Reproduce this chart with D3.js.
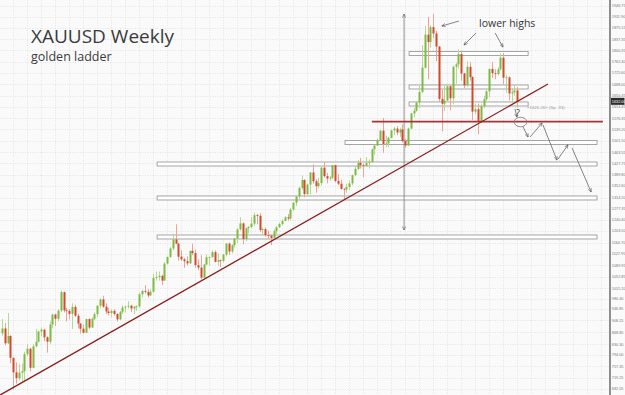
<!DOCTYPE html>
<html><head><meta charset="utf-8">
<script src="https://cdn.jsdelivr.net/npm/d3@7/dist/d3.min.js"></script>
<style>
html,body{margin:0;padding:0;background:#fff;}
svg{display:block;}
</style></head><body>
<svg id="c" width="625" height="395"></svg>
<script>
// Weekly XAUUSD candles, first week ending 2008-09-26
const firstWeek = "2008-09-26";
const open  = [866,882,833,857,785,737,718,736,741,797,815,752,823,838,872,878,853,838,895,928,914,941,1002,942,940,930,953,924,898,881,868,913,885,914,929,957,978,954,938,933,940,930,912,937,951,954,957,948,954,955,995,1006,1003,991,1003,1049,1052,1056,1040,1096,1118,1146,1176,1162,1119,1110,1104,1097,1138,1131,1091,1083,1050,1093,1117,1118,1134,1102,1107,1105,1126,1162,1136,1157,1179,1209,1229,1177,1213,1217,1228,1256,1254,1207,1210,1190,1189,1181,1203,1216,1227,1237,1249,1245,1275,1297,1318,1346,1372,1326,1357,1397,1368,1352,1362,1413,1385,1377,1380,1421,1369,1360,1343,1341,1349,1361,1388,1409,1429,1421,1419,1429,1432,1474,1486,1504,1535,1491,1493,1511,1536,1542,1529,1539,1501,1486,1542,1592,1601,1628,1663,1743,1852,1828,1877,1856,1813,1640,1624,1635,1682,1642,1746,1754,1788,1724,1685,1746,1712,1598,1606,1566,1616,1639,1665,1739,1725,1722,1738,1776,1710,1711,1658,1662,1668];
const high  = [913,900,933,860,786,770,765,766,805,830,818,830,880,875,885,881,856,905,930,930,945,1007,1004,950,946,965,960,930,900,895,914,916,918,935,960,982,990,965,950,945,945,932,940,958,957,972,960,955,958,1000,1010,1025,1012,1010,1062,1070,1070,1059,1101,1120,1150,1195,1226,1165,1140,1115,1120,1140,1162,1142,1110,1124,1095,1126,1120,1140,1140,1130,1110,1128,1164,1166,1160,1180,1213,1249,1232,1215,1220,1250,1265,1260,1262,1215,1215,1205,1190,1210,1220,1232,1242,1253,1260,1280,1300,1320,1350,1387,1375,1360,1398,1424,1375,1380,1415,1432,1395,1385,1422,1423,1392,1373,1345,1360,1370,1390,1418,1438,1445,1427,1448,1440,1476,1490,1509,1536,1577,1518,1515,1539,1547,1550,1545,1556,1507,1545,1594,1610,1632,1683,1817,1881,1911,1884,1921,1865,1815,1670,1685,1690,1685,1750,1760,1803,1796,1726,1764,1762,1715,1625,1625,1625,1650,1670,1740,1763,1738,1745,1790,1792,1720,1715,1675,1685,1680];
const low   = [858,826,831,767,681,700,710,702,705,790,740,750,820,836,856,840,802,830,882,890,905,937,935,905,912,880,920,882,865,865,866,880,884,910,920,950,950,930,925,920,925,905,910,930,935,948,936,930,940,950,985,997,984,990,1000,1040,1040,1025,1040,1093,1115,1140,1160,1106,1105,1082,1090,1095,1125,1083,1074,1044,1048,1090,1090,1115,1100,1088,1085,1100,1120,1125,1130,1150,1165,1205,1160,1170,1196,1213,1220,1226,1200,1190,1185,1178,1157,1180,1193,1215,1222,1236,1238,1240,1270,1286,1310,1340,1315,1318,1325,1360,1330,1345,1355,1380,1361,1370,1375,1364,1355,1340,1308,1330,1340,1355,1385,1405,1410,1381,1415,1410,1429,1455,1485,1500,1462,1480,1480,1510,1520,1520,1515,1496,1478,1484,1540,1580,1598,1610,1660,1740,1705,1810,1840,1765,1630,1532,1600,1630,1603,1622,1690,1740,1700,1676,1680,1700,1570,1590,1523,1562,1610,1632,1646,1710,1705,1717,1733,1688,1660,1635,1627,1650,1612];
const close = [882,833,857,785,737,718,736,741,797,815,752,823,838,872,878,853,838,895,928,914,941,1002,942,940,930,953,924,898,881,868,913,885,914,929,957,978,954,938,933,940,930,912,937,951,954,957,948,954,955,995,1006,1003,991,1003,1049,1052,1056,1040,1096,1118,1146,1176,1162,1119,1110,1104,1097,1138,1131,1091,1083,1050,1093,1117,1118,1134,1102,1107,1105,1126,1162,1136,1157,1179,1209,1229,1177,1213,1217,1228,1256,1254,1207,1210,1190,1189,1181,1203,1216,1227,1237,1249,1245,1275,1297,1318,1346,1372,1326,1357,1397,1368,1352,1362,1413,1385,1377,1380,1421,1369,1360,1343,1341,1349,1361,1388,1409,1429,1421,1419,1429,1432,1474,1486,1504,1535,1491,1493,1511,1536,1542,1529,1539,1501,1486,1542,1592,1601,1628,1663,1743,1852,1828,1877,1856,1813,1640,1624,1635,1682,1642,1746,1754,1788,1724,1685,1746,1712,1598,1606,1566,1616,1639,1665,1739,1725,1722,1738,1776,1710,1711,1658,1662,1668,1632];

// right price axis labels
const tickLabels = ["1946.75","1911.90","1875.15","1837.35","1800.35","1762.40","1725.60","1688.00","1650.45","1614.45","1576.35","1539.20","1501.50","1463.55","1427.75","1389.80","1352.60","1314.20","1277.35","1240.40","1203.50","1164.70","1127.95","1089.95","1052.85","1015.20","980.40","946.85","908.25","868.85","830.30","794.00","757.35","719.25","682.05"];

// drawing annotations in data space: [week index, price]
const ladderBands = [[1789.9,145.4,187.9],[1679.3,145.4,187.9],[1623.2,145.4,187.9],[1496.0,122.5,212.5],[1425.0,55.4,212.5],[1312.8,55.4,212.5],[1184.0,55.4,212.5]];
const redLevel = [1565.0,132.1,214.6];
const trendLine = [[-0.7,662],[195.0,1689]];
const measureLine = [[143.6,1920.3],[143.6,1207.1]];
const lowerHighArrows = [[[163.2,1897.2],[157.1,1880.7]],[[169.3,1857.6],[165.0,1818.0]],[[176.1,1857.6],[178.9,1811.4]]];
const scenarioArrows = [[[183.2,1606.6],[183.9,1580.2]],[[186.1,1547.2],[187.9,1514.2]],[[188.6,1514.2],[192.9,1560.4]],[[193.2,1553.8],[198.2,1438.2]],[[198.6,1441.5],[202.1,1487.8]],[[203.6,1477.8],[210.4,1332.6]]];
const ellipseAt = [185.2,1563.7];
const lowerHighsText = [170.4,1877.4,"lower highs"];
const questionText = [184.3,1583.5,"?"];
const noteText = [187.5,1605.0,"\u00ab1626.26\u00bb (Sp. 33)"];

const W = 625, H = 395;
const svg = d3.select("#c");
const x = d3.scaleLinear().domain([0, close.length - 1]).range([2, 2 + 2.8 * (close.length - 1)]);
const y = d3.scaleLinear().domain([682.05, 1946.75]).range([389, 6]);
const axisX = 610;
const tinyFont = "'Liberation Sans Narrow', 'Liberation Sans', sans-serif";

svg.append("rect").attr("width", W).attr("height", H).attr("fill", "#fafafa");

// grid
const grid = svg.append("g").attr("stroke", "#dadada").attr("stroke-width", 0.7).attr("stroke-dasharray", "1,1.5");
grid.selectAll("line.h").data(tickLabels).join("line").attr("class", "h")
  .attr("x1", 0).attr("x2", axisX).attr("y1", d => Math.round(y(+d)) + 0.5).attr("y2", d => Math.round(y(+d)) + 0.5);
grid.selectAll("line.v").data(d3.range(-1, 215, 5)).join("line").attr("class", "v")
  .attr("x1", d => Math.round(x(d)) + 0.5).attr("x2", d => Math.round(x(d)) + 0.5).attr("y1", 0).attr("y2", H);

// title
svg.append("text").attr("x", 31).attr("y", 42.7).attr("font-family", "'Open Sans', sans-serif")
  .attr("font-size", 19).attr("fill", "#3a3a3a").text("XAUUSD Weekly");
svg.append("text").attr("x", 31).attr("y", 60.5).attr("font-family", "'Open Sans', sans-serif")
  .attr("font-size", 12.5).attr("fill", "#3a3a3a").text("golden ladder");

// ladder bands
svg.append("g").selectAll("rect").data(ladderBands).join("rect")
  .attr("x", d => x(d[1])).attr("width", d => x(d[2]) - x(d[1]))
  .attr("y", d => y(d[0]) - 2).attr("height", 4)
  .attr("fill", "#ffffff").attr("stroke", "#9c9c9c").attr("stroke-width", 0.9);

// measure line
const defs = svg.append("defs");
defs.append("marker").attr("id", "ah").attr("viewBox", "0 0 10 10").attr("refX", 9).attr("refY", 5)
  .attr("markerWidth", 5).attr("markerHeight", 5).attr("orient", "auto-start-reverse")
  .append("path").attr("d", "M0,1 L10,5 L0,9").attr("fill", "none").attr("stroke", "#555").attr("stroke-width", 1.4);

svg.append("line").attr("x1", x(measureLine[0][0])).attr("y1", y(measureLine[0][1]))
  .attr("x2", x(measureLine[1][0])).attr("y2", y(measureLine[1][1]))
  .attr("stroke", "#777").attr("stroke-width", 0.8)
  .attr("marker-start", "url(#ah)").attr("marker-end", "url(#ah)");

// candles
const idx = d3.range(close.length);
const up = i => close[i] >= open[i];
const candles = svg.append("g");
candles.selectAll("line").data(idx).join("line")
  .attr("x1", i => Math.round(x(i)) + 0.5).attr("x2", i => Math.round(x(i)) + 0.5)
  .attr("y1", i => y(high[i])).attr("y2", i => y(low[i]))
  .attr("stroke", i => up(i) ? "#b5d98e" : "#eba596").attr("stroke-width", 1);
candles.selectAll("rect").data(idx).join("rect")
  .attr("x", i => Math.round(x(i)) - 0.5).attr("width", 2)
  .attr("y", i => y(Math.max(open[i], close[i])))
  .attr("height", i => Math.max(0.8, Math.abs(y(open[i]) - y(close[i]))))
  .attr("fill", i => up(i) ? "#7dba43" : "#d2482a");

// red horizontal level
svg.append("line").attr("x1", x(redLevel[1])).attr("x2", x(redLevel[2]))
  .attr("y1", y(redLevel[0])).attr("y2", y(redLevel[0]))
  .attr("stroke", "#a33636").attr("stroke-width", 1.8);

// trendline
svg.append("line").attr("x1", x(trendLine[0][0])).attr("y1", y(trendLine[0][1]))
  .attr("x2", x(trendLine[1][0])).attr("y2", y(trendLine[1][1]))
  .attr("stroke", "#8a1c1c").attr("stroke-width", 1.3);

// arrows
const arrows = lowerHighArrows.concat(scenarioArrows);
svg.append("g").selectAll("line").data(arrows).join("line")
  .attr("x1", d => x(d[0][0])).attr("y1", d => y(d[0][1]))
  .attr("x2", d => x(d[1][0])).attr("y2", d => y(d[1][1]))
  .attr("stroke", "#666").attr("stroke-width", 0.8).attr("marker-end", "url(#ah)");

svg.append("ellipse").attr("cx", x(ellipseAt[0])).attr("cy", y(ellipseAt[1]))
  .attr("rx", 6.3).attr("ry", 4.8).attr("fill", "none").attr("stroke", "#777").attr("stroke-width", 0.8);

svg.append("text").attr("x", x(lowerHighsText[0])).attr("y", y(lowerHighsText[1]))
  .attr("font-family", "'Open Sans', sans-serif").attr("font-size", 10.5).attr("fill", "#333").text(lowerHighsText[2]);
svg.append("text").attr("x", x(questionText[0])).attr("y", y(questionText[1])).attr("text-anchor", "middle")
  .attr("font-family", "'Open Sans', sans-serif").attr("font-size", 9).attr("fill", "#444").text(questionText[2]);
svg.append("text").attr("x", x(noteText[0])).attr("y", y(noteText[1]))
  .attr("font-family", tinyFont).attr("font-size", 4.4).attr("fill", "#999").text(noteText[2]);

// right axis
svg.append("line").attr("x1", axisX).attr("x2", axisX).attr("y1", 0).attr("y2", H)
  .attr("stroke", "#555").attr("stroke-width", 1.3);
svg.append("g").selectAll("text").data(tickLabels).join("text")
  .attr("x", axisX + 1.8).attr("y", d => y(+d) + 1.4)
  .attr("font-family", tinyFont).attr("font-size", 3.8)
  .attr("fill", "#777").text(d => d);

const last = close[close.length - 1];
svg.append("rect").attr("x", axisX + 1).attr("y", y(last) - 3.5).attr("width", 13.5).attr("height", 7).attr("fill", "#2b2b2b");
svg.append("text").attr("x", axisX + 1.8).attr("y", y(last) + 1.4)
  .attr("font-family", tinyFont).attr("font-size", 3.8)
  .attr("fill", "#fff").text(last.toFixed(2));
</script>
</body></html>
